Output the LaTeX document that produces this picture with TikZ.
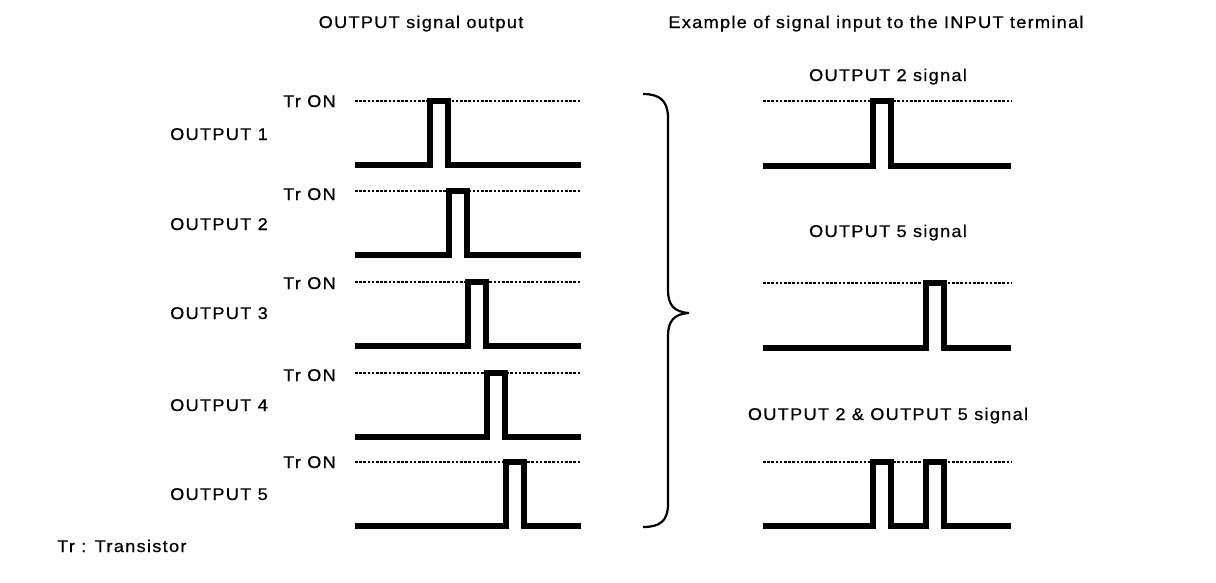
\documentclass[tikz,border=0pt]{standalone}
\usepackage{fontspec}
\setmainfont{Liberation Sans}[LetterSpace=7.5, FakeStretch=1.07, FakeBold=0.6]
\begin{document}
\begin{tikzpicture}[x=1pt,y=-1pt,
  lbl/.style={font=\fontsize{17}{20}\selectfont, inner sep=0pt, anchor=base},
  lblr/.style={lbl, anchor=base east},
  wave/.style={line width=5.5pt, line join=miter, line cap=butt},
  ref/.style={line width=1.6pt, dash pattern=on 2.6pt off 1.6pt},
  bracestyle/.style={line width=2.2pt}]
\useasboundingbox (0,0) rectangle (1216,582);
\fill[white] (0,0) rectangle (1216,582);

% titles
\node[lbl] (tl) at (421,28) {OUTPUT signal output};
\node[lbl] (tr) at (876,28) {Example of signal input to the INPUT terminal};

% left waveforms
\foreach \k/\d/\p/\ty/\oy in {1/101/430/107/140, 2/191/449/200/230, 3/282/468/289/319, 4/373/487/381/411, 5/462/506/468/500} {
  \node[lblr] (tron\k) at (336,\ty) {Tr ON};
  \node[lbl] (out\k) at (219,\oy) {OUTPUT \k};
  \draw[ref] (355,\d) -- (581,\d);
  \draw[wave] (355,\d+64) -- (\p,\d+64) -- (\p,\d) -- (\p+18,\d) -- (\p+18,\d+64) -- (581,\d+64);
}

% brace
\draw[bracestyle] (643,94) .. controls (660,94) and (668,101) .. (668,118)
  -- (668,290) .. controls (668,305) and (674,312) .. (689,313)
  .. controls (674,314) and (668,321) .. (668,336)
  -- (668,504) .. controls (668,521) and (660,527) .. (643,527);

% right waveforms
\node[lbl] (r1) at (888,81) {OUTPUT 2 signal};
\draw[ref] (763,101) -- (1011,101);
\draw[wave] (763,166) -- (873,166) -- (873,101) -- (891,101) -- (891,166) -- (1011,166);

\node[lbl] (r2) at (888,237) {OUTPUT 5 signal};
\draw[ref] (763,283) -- (1011,283);
\draw[wave] (763,348) -- (926,348) -- (926,283) -- (944,283) -- (944,348) -- (1011,348);

\node[lbl] (r3) at (888,420) {OUTPUT 2 \& OUTPUT 5 signal};
\draw[ref] (763,462) -- (1011,462);
\draw[wave] (763,526) -- (873,526) -- (873,462) -- (891,462) -- (891,526)
  -- (926,526) -- (926,462) -- (944,462) -- (944,526) -- (1011,526);

% footnote
\node[lbl, anchor=base west] (fn) at (57,552) {Tr : Transistor};
\end{tikzpicture}
\end{document}
